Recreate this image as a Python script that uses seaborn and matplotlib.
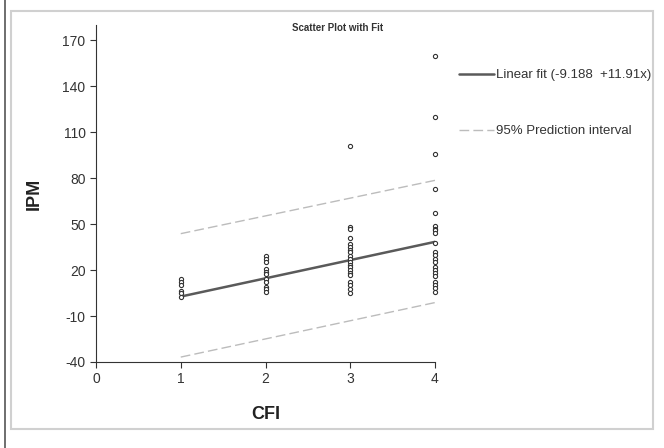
import numpy as np
import pandas as pd
import matplotlib
matplotlib.use("Agg")
import matplotlib.pyplot as plt
import seaborn as sns
from matplotlib.patches import Rectangle

# CFI groups and the IPM values
ipm_cfi1 = [14, 12, 10.5, 6.5, 5, 2.5]
ipm_cfi2 = [29, 27, 25, 21, 19, 17.5, 14, 12.5, 9, 7.5, 6]
ipm_cfi3 = [101, 48, 47, 41, 37, 35, 33, 31.5, 29.5, 27, 25, 23.5, 22, 20,
            18, 16.5, 12.5, 10.5, 7.5, 5]
ipm_cfi4 = [160, 120, 96, 73, 57, 49, 47, 46, 44, 38, 32, 30, 27, 25, 22,
            20, 18, 16, 12, 10, 8, 6]

fit_intercept = -9.188
fit_slope = 11.91
line_x = [1, 4]
pi_upper = [43.8, 78.6]
pi_lower = [-36.8, -1.2]

y_ticks = [-40, -10, 20, 50, 80, 110, 140, 170]
x_ticks = [0, 1, 2, 3, 4]

rows = []
for cfi, vals in zip([1, 2, 3, 4], [ipm_cfi1, ipm_cfi2, ipm_cfi3, ipm_cfi4]):
    for v in vals:
        rows.append((cfi, v))
df = pd.DataFrame(rows, columns=["CFI", "IPM"])

fit_y = [fit_intercept + fit_slope * x for x in line_x]

sns.set_style("white")
plt.rcParams["font.family"] = ["Liberation Sans", "DejaVu Sans"]
plt.rcParams["axes.unicode_minus"] = False

fig = plt.figure(figsize=(6.64, 4.48), dpi=100)
ax = fig.add_axes([0.1446, 0.192, 0.5105, 0.752])

sns.lineplot(x=line_x, y=fit_y, ax=ax, color="#5a5a5a", linewidth=1.8,
             label="Linear fit (-9.188  +11.91x)")
sns.lineplot(x=line_x, y=pi_upper, ax=ax, color="#bcbcbc", linewidth=1.0,
             label="95% Prediction interval")
sns.lineplot(x=line_x, y=pi_lower, ax=ax, color="#bcbcbc", linewidth=1.0)
ax.lines[1].set_linestyle((0, (7, 3)))
ax.lines[2].set_linestyle((0, (7, 3)))
sns.scatterplot(data=df, x="CFI", y="IPM", ax=ax, marker="o", s=9,
                facecolor="white", edgecolor="#333333", linewidth=0.8,
                zorder=5, clip_on=False)

ax.set_xlim(0, 4)
ax.set_ylim(-40, 180)
ax.set_xticks(x_ticks)
ax.set_yticks(y_ticks)
ax.tick_params(axis="both", direction="out", length=4, width=0.8,
               colors="#333333", labelsize=10, left=True, bottom=True)
sns.despine(ax=ax)
for side in ["left", "bottom"]:
    ax.spines[side].set_color("#333333")
    ax.spines[side].set_linewidth(0.8)

ax.set_xlabel("CFI", fontsize=13, fontweight="bold", color="#222222", labelpad=14)
ax.set_ylabel("IPM", fontsize=13, fontweight="bold", color="#222222", labelpad=14)

fig.text(0.508, 0.937, "Scatter Plot with Fit", fontsize=7, fontweight="bold",
         color="#333333", ha="center", va="center")

leg = ax.legend(loc="upper left", bbox_to_anchor=(1.056, 0.885), frameon=False,
                fontsize=9.5, handlelength=2.6, handletextpad=0.2,
                labelspacing=3.3, borderaxespad=0)
for t in leg.get_texts():
    t.set_color("#333333")

fig.patches.append(Rectangle((11 / 664, 1 - 429 / 448), 642 / 664, 418 / 448,
                             transform=fig.transFigure, fill=False,
                             edgecolor="#d0d0d0", linewidth=1.5))
fig.lines.append(plt.Line2D([5 / 664, 5 / 664], [0, 1], transform=fig.transFigure,
                            color="#555555", linewidth=1.2))

fig.savefig("out.png", dpi=100)
